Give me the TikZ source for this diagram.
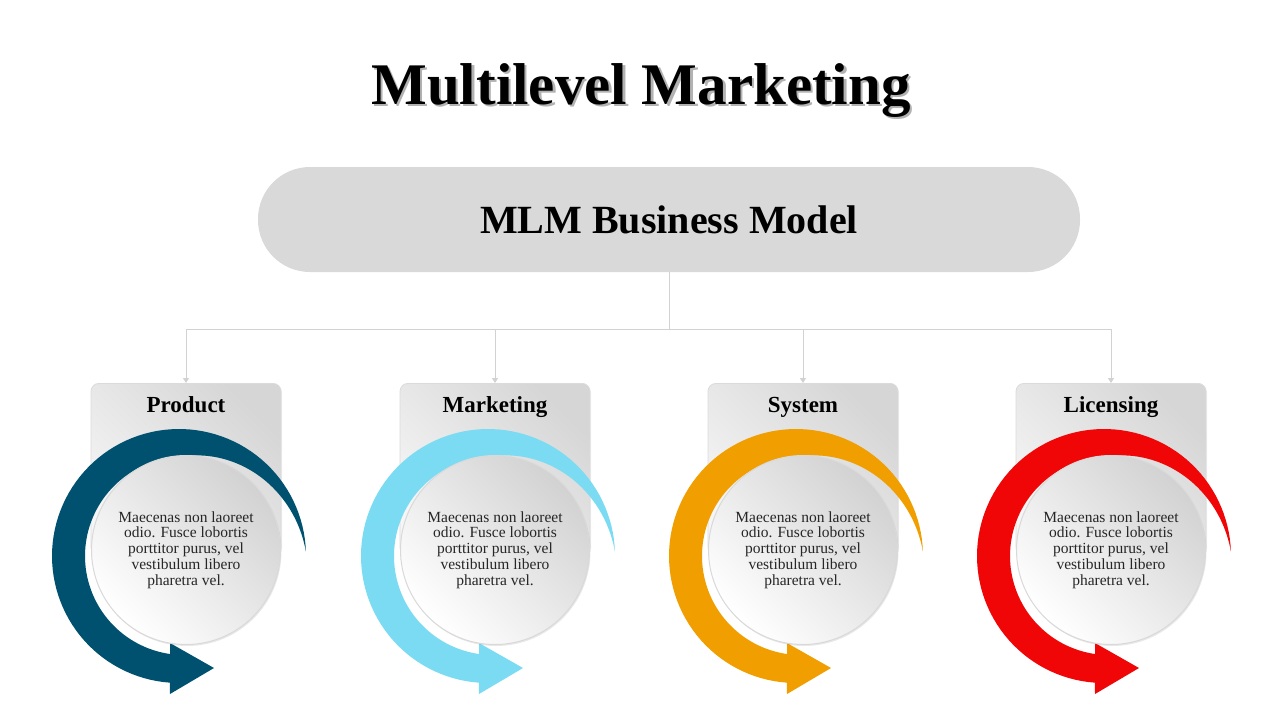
\documentclass[tikz,border=0pt]{standalone}
\usepackage{fontspec}
\setmainfont{Liberation Serif}
\usetikzlibrary{arrows.meta,shadows}
\definecolor{pillgray}{HTML}{D9D9D9}
\definecolor{linegray}{HTML}{D2D2D2}
\definecolor{cteal}{RGB}{0,81,111}
\definecolor{cblue}{RGB}{122,219,242}
\definecolor{corange}{RGB}{241,158,0}
\definecolor{cred}{RGB}{240,6,6}
\definecolor{cardlight}{HTML}{F6F6F6}
\definecolor{carddark}{HTML}{D6D6D6}
\definecolor{bubdark}{HTML}{D2D2D2}
\definecolor{bodytext}{HTML}{262626}
\begin{document}
\begin{tikzpicture}[x=1pt,y=-1pt,
  titletext/.style={font={\bfseries\fontsize{59}{60}\selectfont}, inner sep=0pt, anchor=base},
  pill/.style={fill=pillgray, rounded corners=52pt, minimum width=822pt, minimum height=105pt, inner sep=0pt, font={\bfseries\fontsize{40}{44}\selectfont}},
  conn/.style={draw=linegray, line width=1pt},
  connarrow/.style={conn, -{Triangle[width=6pt,length=5pt]}},
  cardbox/.style={draw=black!14, line width=0.8pt, rounded corners=8pt, minimum width=190pt, minimum height=172pt, inner sep=0pt, anchor=north, top color=carddark, bottom color=cardlight, shading angle=-45, drop shadow={opacity=0.12, shadow xshift=1pt, shadow yshift=-1pt}},
  cardlabel/.style={font={\bfseries\fontsize{23}{24}\selectfont}, inner sep=0pt, anchor=base},
  bubble/.style={circle, draw=black!15, line width=1pt, minimum size=189pt, inner sep=0pt, align=center, top color=bubdark, bottom color=white, shading angle=-45, text=bodytext, font={\fontsize{15.5}{15.8}\selectfont}, drop shadow={opacity=0.18, shadow xshift=1pt, shadow yshift=-1.5pt}},
]
\useasboundingbox (0,0) rectangle (1280,720);
\fill[white] (0,0) rectangle (1280,720);

% title with soft shadow
\node[titletext, text=black, opacity=0.3] (titleshadow) at (643.5,106.5) {Multilevel Marketing};
\node[titletext] (title) at (641,104) {Multilevel Marketing};

% top pill
\node[pill] (mlm) at (669,219.5) {MLM Business Model};

% cards
\foreach \cx/\nm/\col/\lab in {186/1/cteal/Product, 495/2/cblue/Marketing, 803/3/corange/System, 1111/4/cred/Licensing}{
  \node[cardbox] (c\nm) at (\cx,383) {};
  \node[cardlabel] (l\nm) at (\cx,412) {\lab};
  \fill[\col] plot[domain=2:265.9, samples=90] ({\cx-7+127*cos(\x)}, {556-127*sin(\x)})
    -- (\cx-16,694) -- (\cx+28,668) -- (\cx-16,643)
    -- plot[domain=261.87:90, samples=70] ({\cx-2+99*cos(\x)}, {556-99*sin(\x)})
    -- plot[domain=90:2, samples=60] ({\cx-7+(127-28*(\x-2)/88)*cos(\x)}, {556-(127-28*(\x-2)/88)*sin(\x)})
    -- cycle;
  \node[bubble] (b\nm) at (\cx,550) {Maecenas non laoreet\\odio. Fusce lobortis\\porttitor purus, vel\\vestibulum libero\\pharetra vel.};
}

% connectors
\coordinate (hub) at (669,329);
\draw[conn] (mlm.south) -- (hub);
\foreach \nm in {1,2,3,4}{
  \draw[connarrow] (hub) -| (c\nm.north);
}
\end{tikzpicture}
\end{document}
